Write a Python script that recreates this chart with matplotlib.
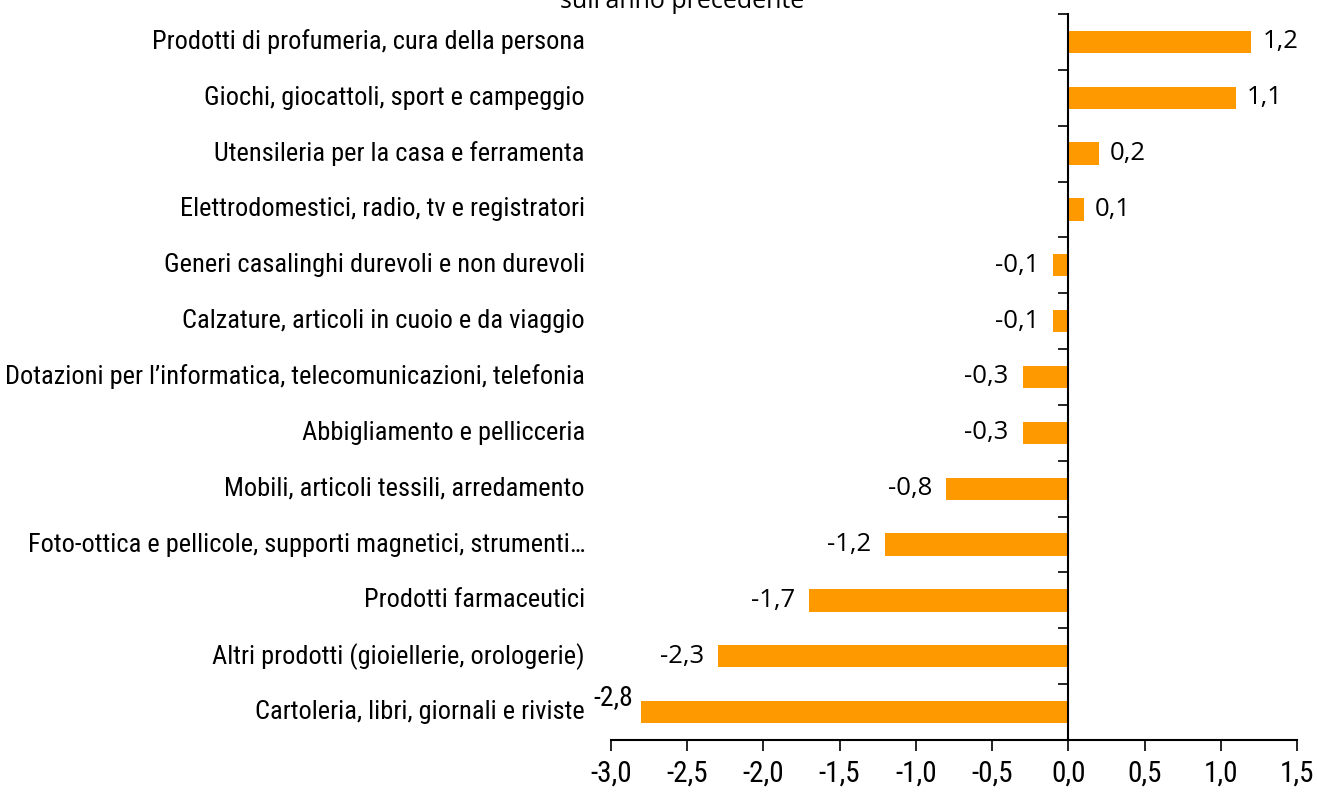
import matplotlib
matplotlib.use("Agg")
import matplotlib.pyplot as plt
import matplotlib.transforms as mtransforms
import numpy as np

categorie = [
    "Prodotti di profumeria, cura della persona",
    "Giochi, giocattoli, sport e campeggio",
    "Utensileria per la casa e ferramenta",
    "Elettrodomestici, radio, tv e registratori",
    "Generi casalinghi durevoli e non durevoli",
    "Calzature, articoli in cuoio e da viaggio",
    "Dotazioni per l\u2019informatica, telecomunicazioni, telefonia",
    "Abbigliamento e pellicceria",
    "Mobili, articoli tessili, arredamento",
    "Foto-ottica e pellicole, supporti magnetici, strumenti\u2026",
    "Prodotti farmaceutici",
    "Altri prodotti (gioiellerie, orologerie)",
    "Cartoleria, libri, giornali e riviste",
]
variazioni = [1.2, 1.1, 0.2, 0.1, -0.1, -0.1, -0.3, -0.3, -0.8, -1.2, -1.7, -2.3, -2.8]
x_ticks = [-3.0, -2.5, -2.0, -1.5, -1.0, -0.5, 0.0, 0.5, 1.0, 1.5]

narrow = ["Liberation Sans Narrow", "Roboto Condensed", "DejaVu Sans"]
regular = ["Open Sans", "DejaVu Sans"]

fig = plt.figure(figsize=(13.17, 7.92), dpi=100)
ax = fig.add_axes([611 / 1317, 52 / 792, 686 / 1317, 726 / 792])

n = len(categorie)
y = np.arange(n)[::-1]
ax.barh(y, variazioni, height=0.4, color="#FF9900", zorder=2)

ax.set_xlim(-3.0, 1.5)
ax.set_ylim(-0.5, n - 0.5)

# spines: x axis at bottom, y axis at zero
for s in ["top", "right"]:
    ax.spines[s].set_visible(False)
ax.spines["left"].set_position(("data", 0))
ax.spines["left"].set_linewidth(1.5)
ax.spines["bottom"].set_linewidth(1.5)

ax.set_yticks(y)
ax.set_yticklabels([])
ax.tick_params(axis="y", which="major", length=0)
ax.set_yticks(np.arange(n + 1) - 0.5, minor=True)
ax.tick_params(axis="y", which="minor", length=7, width=1.2, direction="out")

ax.set_xticks(x_ticks)
ax.set_xticklabels([f"{v:.1f}".replace(".", ",") for v in x_ticks], family=narrow, fontsize=21)
ax.tick_params(axis="x", length=8, width=1.2, pad=6)

# category labels on the far left
trans = mtransforms.blended_transform_factory(ax.transAxes, ax.transData)
for yi, lab in zip(y, categorie):
    ax.annotate(lab, xy=(0, yi), xycoords=trans, xytext=(-26, 0), textcoords="offset pixels",
                ha="right", va="center", family=narrow, fontsize=19)

# value labels
for yi, v in zip(y, variazioni):
    txt = f"{v:.1f}".replace(".", ",")
    if v == -2.8:
        ax.annotate(txt, xy=(v, yi), xytext=(-8, 15), textcoords="offset pixels",
                    ha="right", va="center", family=narrow, fontsize=20)
    elif v >= 0:
        ax.annotate(txt, xy=(v, yi), xytext=(11, 0), textcoords="offset pixels",
                    ha="left", va="center", family=regular, fontsize=18.5)
    else:
        ax.annotate(txt, xy=(v, yi), xytext=(-14, 0), textcoords="offset pixels",
                    ha="right", va="center", family=regular, fontsize=18.5)

# title is partly cut at the top edge, as in the original
fig.text(682 / 1317, 1 - 8 / 792, "sull'anno precedente", ha="center", va="baseline",
         family=regular, fontsize=18)

fig.savefig("out.png", dpi=100)
